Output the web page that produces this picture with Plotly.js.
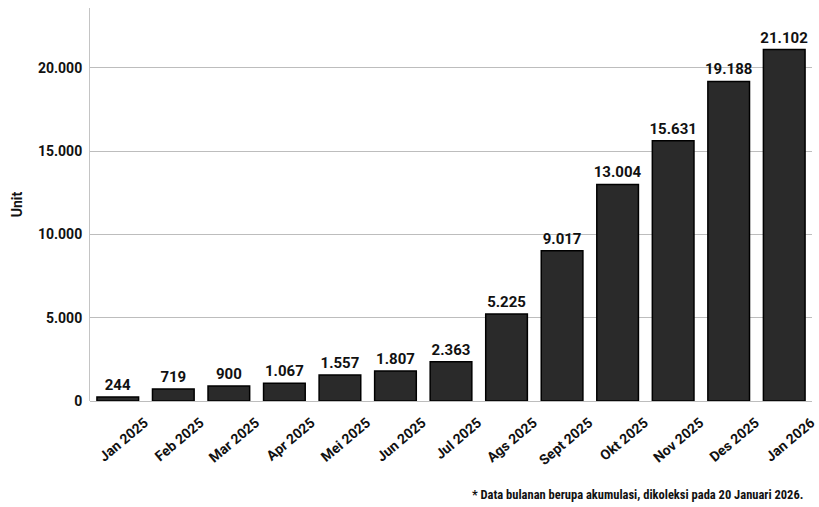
<!DOCTYPE html>
<html>
<head>
<meta charset="utf-8">
<script src="https://cdn.plot.ly/plotly-3.0.1.min.js"></script>
<style>html,body{margin:0;padding:0;background:#fff;}#chart{width:819px;height:507px;}</style>
</head>
<body>
<div id="chart"></div>
<script>
const categories = ["Jan 2025","Feb 2025","Mar 2025","Apr 2025","Mei 2025","Jun 2025","Jul 2025","Ags 2025","Sept 2025","Okt 2025","Nov 2025","Des 2025","Jan 2026"];
const units = [244,719,900,1067,1557,1807,2363,5225,9017,13004,15631,19188,21102];
const labels = ["244","719","900","1.067","1.557","1.807","2.363","5.225","9.017","13.004","15.631","19.188","21.102"];
const yTickVals = [0,5000,10000,15000,20000];
const yTickText = ["0","5.000","10.000","15.000","20.000"];
const footnote = "* Data bulanan berupa akumulasi, dikoleksi pada 20 Januari 2026.";

const FONT = "Roboto, 'Liberation Sans', sans-serif";

Plotly.newPlot('chart', [{
  type: 'bar',
  x: categories,
  y: units,
  text: labels,
  textposition: 'outside',
  constraintext: 'none',
  cliponaxis: false,
  textfont: {family: FONT, size: 15, color: '#111', weight: 700},
  marker: {color: '#2a2a2a', line: {color: '#000', width: 1.5}},
  hoverinfo: 'none'
}], {
  width: 819, height: 507,
  margin: {l: 90, r: 7, t: 8, b: 106},
  paper_bgcolor: '#fff', plot_bgcolor: '#fff',
  bargap: 0.25,
  showlegend: false,
  font: {family: FONT, color: '#111'},
  xaxis: {
    tickangle: -40,
    tickfont: {family: FONT, size: 14, color: '#111', weight: 700},
    ticklabelshift: 27,
    ticklabelstandoff: 10,
    showgrid: false, showline: false, ticks: '', zeroline: false
  },
  yaxis: {
    range: [0, 23600],
    tickvals: yTickVals,
    ticktext: yTickText,
    tickfont: {family: FONT, size: 14, color: '#111', weight: 700},
    gridcolor: '#bdbdbd', gridwidth: 1,
    showline: true, linecolor: '#c4c4c4', linewidth: 1,
    zeroline: true, zerolinecolor: '#bdbdbd', zerolinewidth: 1,
    ticks: '', ticklen: 0, ticklabelstandoff: 4,
    title: {text: 'Unit', font: {family: FONT, size: 14, color: '#111', weight: 700}, standoff: 12}
  },
  annotations: [{
    text: footnote, xref: 'paper', yref: 'paper', x: 0.99, y: -0.215,
    xanchor: 'right', yanchor: 'top', showarrow: false,
    font: {family: "'Roboto Condensed', 'Liberation Sans Narrow', Roboto, sans-serif", size: 12.5, color: '#111', weight: 700}
  }]
}, {displayModeBar: false, staticPlot: true});
</script>
</body>
</html>
